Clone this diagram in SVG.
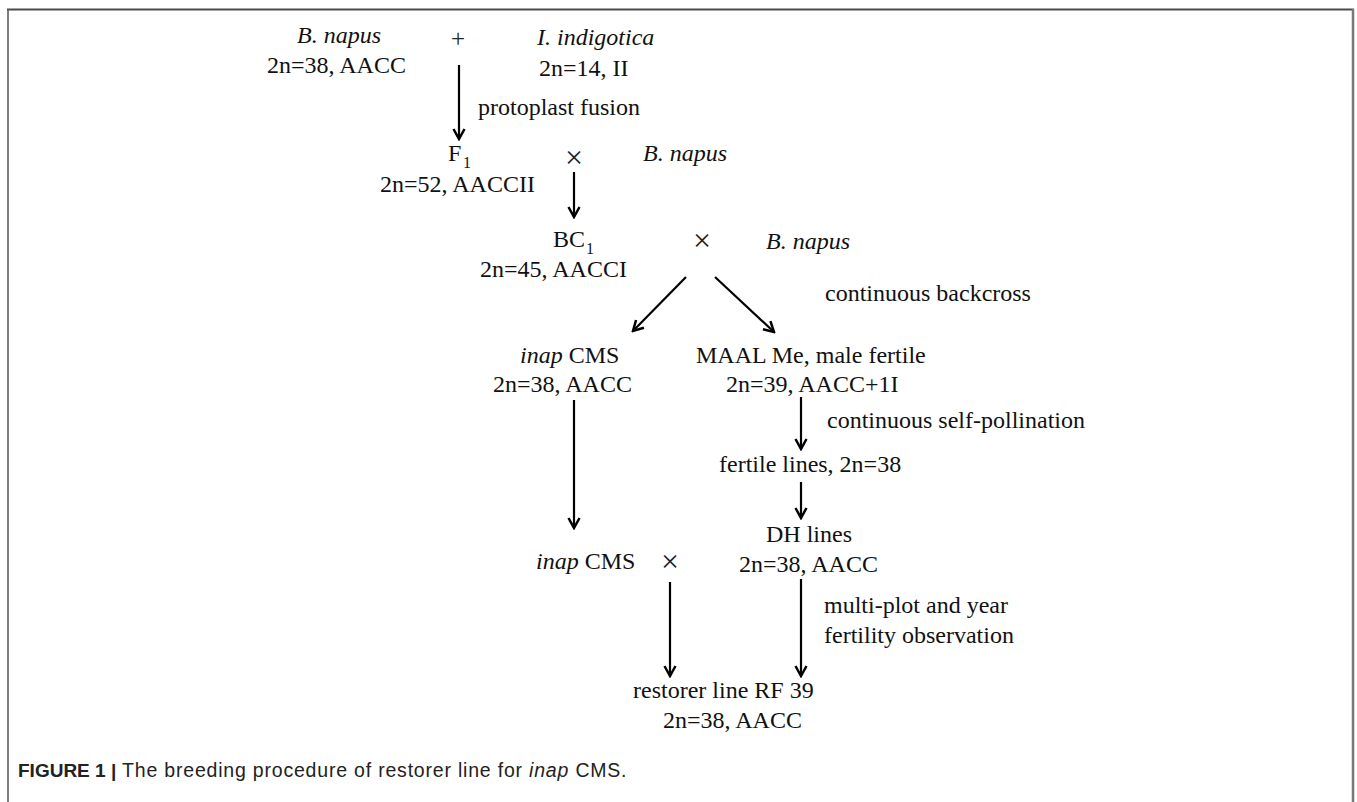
<svg xmlns="http://www.w3.org/2000/svg" width="1357" height="802" viewBox="0 0 1357 802">
<style>
  .t { font-family: "Liberation Serif", "Times New Roman", serif; font-size: 24px; fill: #111; }
  .i { font-style: italic; }
  .sub { font-family: "Liberation Serif", "Times New Roman", serif; font-size: 16px; fill: #111; }
  .op { font-family: "Liberation Serif", "Times New Roman", serif; font-size: 32px; fill: #222; text-anchor: middle; }
  .plus { font-family: "Liberation Serif", "Times New Roman", serif; font-size: 25px; fill: #222; text-anchor: middle; }
  .c { stroke: #000; stroke-width: 2.2; fill: none; marker-end: url(#ah); }
  .cap { font-family: "Liberation Sans", Arial, sans-serif; font-size: 19px; fill: #222; }
</style>
<defs>
  <marker id="ah" viewBox="-12 -7 14 14" markerWidth="14" markerHeight="14" refX="0" refY="0" orient="auto" markerUnits="userSpaceOnUse">
    <path d="M-10,-5.5 L0,0 L-10,5.5" fill="none" stroke="#000" stroke-width="2.5" stroke-linejoin="miter"/>
  </marker>
</defs>
<rect width="1357" height="802" fill="#fff"/>
<g id="frame">
  <line x1="7" y1="9.5" x2="1354" y2="9.5" stroke="#4a4a4a" stroke-width="2"/>
  <line x1="8" y1="9" x2="8" y2="802" stroke="#555" stroke-width="1.5"/>
  <line x1="1353" y1="9" x2="1353" y2="802" stroke="#7a7a7a" stroke-width="2.5"/>
</g>
<g id="connectors">
  <line class="c" x1="459" y1="65" x2="459" y2="139"/>
  <line class="c" x1="574" y1="172" x2="574" y2="217"/>
  <line class="c" x1="686" y1="277" x2="633" y2="331"/>
  <line class="c" x1="715" y1="277" x2="774" y2="332"/>
  <line class="c" x1="574" y1="400" x2="574" y2="528"/>
  <line class="c" x1="801" y1="397" x2="801" y2="449"/>
  <line class="c" x1="801" y1="482" x2="801" y2="518"/>
  <line class="c" x1="670" y1="582" x2="670" y2="676"/>
  <line class="c" x1="801" y1="579" x2="801" y2="676"/>
</g>
<g id="n-bnapus-parent">
  <text class="t i" x="297" y="43">B. napus</text>
  <text class="t" x="267" y="73">2n=38, AACC</text>
</g>
<g id="op-plus"><text class="plus" x="458" y="47">+</text></g>
<g id="n-indigotica">
  <text class="t i" x="537" y="45">I. indigotica</text>
  <text class="t" x="539" y="76">2n=14, II</text>
</g>
<g id="lbl-protoplast"><text class="t" x="478" y="115">protoplast fusion</text></g>
<g id="n-f1">
  <text class="t" x="448" y="161">F</text>
  <text class="sub" x="463" y="168">1</text>
  <text class="t" x="380" y="192">2n=52, AACCII</text>
</g>
<g id="op-cross1"><text class="op" x="574" y="168">×</text></g>
<g id="n-bnapus-2"><text class="t i" x="643" y="161">B. napus</text></g>
<g id="n-bc1">
  <text class="t" x="553" y="247">BC</text>
  <text class="sub" x="586" y="254">1</text>
  <text class="t" x="480" y="277">2n=45, AACCI</text>
</g>
<g id="op-cross2"><text class="op" x="702" y="251">×</text></g>
<g id="n-bnapus-3"><text class="t i" x="766" y="249">B. napus</text></g>
<g id="lbl-backcross"><text class="t" x="825" y="301">continuous backcross</text></g>
<g id="n-inap-cms">
  <text class="t" x="520" y="363"><tspan class="i">inap</tspan> CMS</text>
  <text class="t" x="493" y="392">2n=38, AACC</text>
</g>
<g id="n-maal">
  <text class="t" x="696" y="363">MAAL Me, male fertile</text>
  <text class="t" x="726" y="392">2n=39, AACC+1I</text>
</g>
<g id="lbl-self"><text class="t" x="827" y="428">continuous self-pollination</text></g>
<g id="n-fertile"><text class="t" x="719" y="472">fertile lines, 2n=38</text></g>
<g id="n-dh">
  <text class="t" x="766" y="542">DH lines</text>
  <text class="t" x="739" y="572">2n=38, AACC</text>
</g>
<g id="n-inap-cms-2"><text class="t" x="536" y="569"><tspan class="i">inap</tspan> CMS</text></g>
<g id="op-cross3"><text class="op" x="670" y="572">×</text></g>
<g id="lbl-multi">
  <text class="t" x="824" y="613">multi-plot and year</text>
  <text class="t" x="824" y="643">fertility observation</text>
</g>
<g id="n-restorer">
  <text class="t" x="633" y="698">restorer line RF 39</text>
  <text class="t" x="663" y="728">2n=38, AACC</text>
</g>
<g id="caption">
  <text class="cap" x="18" y="777"><tspan font-weight="bold">FIGURE 1 |</tspan><tspan font-size="19.5" letter-spacing="0.8"> The breeding procedure of restorer line for <tspan font-style="italic">inap</tspan> CMS.</tspan></text>
</g>
</svg>
